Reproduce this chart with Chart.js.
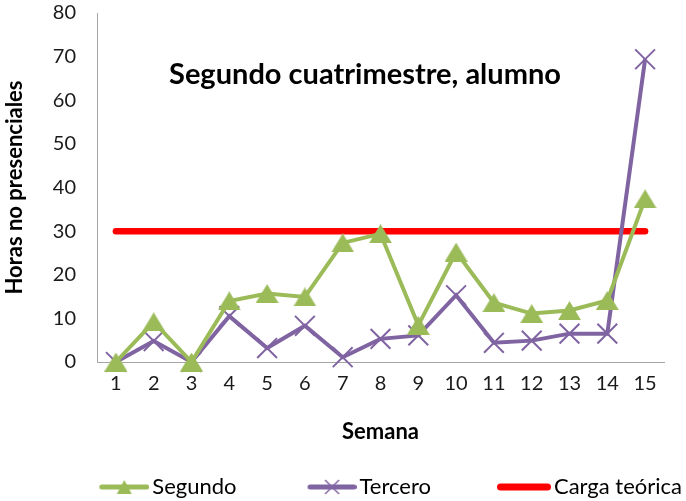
<!DOCTYPE html>
<html>
<head>
<meta charset="utf-8">
<script src="https://cdn.jsdelivr.net/npm/chart.js@4.4.1/dist/chart.umd.min.js"></script>
<style>
    html, body { margin: 0; padding: 0; background: #fff; }
    #wrap { width: 686px; height: 501px; }
</style>
</head>
<body>
<div id="wrap"><canvas id="horasChart"></canvas></div>
<script>
// Datos: horas no presenciales por semana
const semanas = ['1', '2', '3', '4', '5', '6', '7', '8', '9', '10', '11', '12', '13', '14', '15'];
const segundo = [0, 9.2, 0, 14, 15.7, 14.9, 27.3, 29.4, 8.4, 25.2, 13.6, 11.1, 11.8, 14.1, 37.4];
const tercero = [0, 4.8, 0, 10.5, 3.2, 8.3, 1.1, 5.3, 6.1, 15.3, 4.4, 4.9, 6.5, 6.5, 69.4];
const cargaTeorica = [30, 30, 30, 30, 30, 30, 30, 30, 30, 30, 30, 30, 30, 30, 30];

const VERDE = '#9bbb59';
const MORADO = '#8064a2';
const ROJO = '#ff0000';
const FUENTE = 'Lato, "Open Sans", sans-serif';

// triángulo relleno centrado en su caja
function marcaTriangulo(w, h, color) {
    const c = document.createElement('canvas');
    c.width = w;
    c.height = h;
    const ctx = c.getContext('2d');
    ctx.fillStyle = color;
    ctx.beginPath();
    ctx.moveTo(w / 2, 0);
    ctx.lineTo(w, h);
    ctx.lineTo(0, h);
    ctx.closePath();
    ctx.fill();
    return c;
}

// icono de leyenda: línea con marca opcional, desplazado dentro del hueco del item
const BOX = 108;      // ancho de caja de la leyenda
const HUECO = 66;     // espacio antes del icono
function iconoLeyenda(ancho, grosor, color, marca) {
    const izq = HUECO - BOX / 2;
    const der = HUECO + 50 - BOX / 2;
    const mitad = Math.ceil(Math.max(Math.abs(izq), Math.abs(der)));
    const c = document.createElement('canvas');
    c.width = mitad * 2;
    c.height = 18;
    const ctx = c.getContext('2d');
    const x0 = mitad + der - ancho;
    ctx.strokeStyle = color;
    ctx.lineWidth = grosor;
    ctx.lineCap = 'round';
    ctx.beginPath();
    ctx.moveTo(x0 + grosor / 2, 9);
    ctx.lineTo(x0 + ancho - grosor / 2, 9);
    ctx.stroke();
    const cx = x0 + ancho / 2;
    if (marca === 'triangulo') {
        ctx.fillStyle = color;
        ctx.beginPath();
        ctx.moveTo(cx, 2);
        ctx.lineTo(cx + 7.5, 16);
        ctx.lineTo(cx - 7.5, 16);
        ctx.closePath();
        ctx.fill();
    } else if (marca === 'cruz') {
        ctx.lineWidth = 1.5;
        ctx.lineCap = 'butt';
        ctx.beginPath();
        ctx.moveTo(cx - 7, 2);
        ctx.lineTo(cx + 7, 16);
        ctx.moveTo(cx + 7, 2);
        ctx.lineTo(cx - 7, 16);
        ctx.stroke();
    }
    return c;
}

const iconos = [
    iconoLeyenda(50, 5, VERDE, 'triangulo'),
    iconoLeyenda(49, 5, MORADO, 'cruz'),
    iconoLeyenda(54, 7, ROJO, null)
];

// título dibujado dentro del área del gráfico
const tituloInterior = {
    id: 'tituloInterior',
    afterDraw(chart) {
        const {ctx, chartArea} = chart;
        ctx.save();
        ctx.font = 'bold 29px ' + FUENTE;
        ctx.fillStyle = '#000';
        ctx.textAlign = 'center';
        ctx.textBaseline = 'middle';
        ctx.fillText('Segundo cuatrimestre, alumno', chartArea.left + 268, chartArea.top + 62);
        ctx.restore();
    }
};

new Chart(document.getElementById('horasChart'), {
    type: 'line',
    data: {
        labels: semanas,
        datasets: [
            {
                label: 'Segundo',
                data: segundo,
                borderColor: VERDE,
                backgroundColor: VERDE,
                borderWidth: 4,
                pointStyle: marcaTriangulo(23, 19, VERDE),
                pointRadius: 10,
                clip: false
            },
            {
                label: 'Tercero',
                data: tercero,
                borderColor: MORADO,
                backgroundColor: MORADO,
                borderWidth: 4,
                pointStyle: 'crossRot',
                pointRadius: 14,
                pointBorderWidth: 2,
                clip: false
            },
            {
                label: 'Carga teórica',
                data: cargaTeorica,
                borderColor: ROJO,
                backgroundColor: ROJO,
                borderWidth: 6.5,
                borderCapStyle: 'round',
                pointRadius: 0,
                clip: false
            }
        ]
    },
    options: {
        responsive: true,
        maintainAspectRatio: false,
        animation: false,
        layout: {
            autoPadding: false,
            padding: {top: 13, right: 0, bottom: -7, left: 0}
        },
        elements: {
            line: {tension: 0}
        },
        scales: {
            x: {
                offset: true,
                grid: {display: false, drawTicks: false},
                border: {display: true, color: '#a6a6a6', width: 1},
                ticks: {
                    color: '#1a1a1a',
                    font: {family: FUENTE, size: 20},
                    padding: 10,
                    autoSkip: false,
                    maxRotation: 0
                },
                title: {
                    display: true,
                    text: 'Semana',
                    color: '#000',
                    font: {family: FUENTE, size: 22, weight: 'bold'},
                    padding: {top: 10, bottom: 27}
                },
                afterFit(scale) {
                    scale.height = 110;
                    scale.paddingLeft = 0;
                    scale.paddingRight = 0;
                }
            },
            y: {
                min: 0,
                max: 80,
                grid: {display: false, drawTicks: false},
                border: {display: true, color: '#a6a6a6', width: 1},
                ticks: {
                    stepSize: 10,
                    color: '#1a1a1a',
                    font: {family: FUENTE, size: 20},
                    padding: 21
                },
                title: {
                    display: true,
                    text: 'Horas no presenciales',
                    color: '#000',
                    font: {family: FUENTE, size: 22, weight: 'bold'},
                    padding: {top: 1.5, bottom: 5}
                },
                afterFit(scale) {
                    scale.width = 97;
                    scale.paddingTop = 0;
                    scale.paddingBottom = 0;
                }
            },
            // margen derecho del área de trazado
            margen: {
                type: 'linear',
                position: 'right',
                display: true,
                grid: {display: false, drawTicks: false},
                border: {display: false},
                ticks: {display: false},
                afterFit(scale) {
                    scale.width = 22;
                    scale.paddingTop = 0;
                    scale.paddingBottom = 0;
                }
            }
        },
        plugins: {
            tooltip: {enabled: false},
            legend: {
                position: 'bottom',
                align: 'end',
                labels: {
                    usePointStyle: true,
                    pointStyleWidth: BOX,
                    padding: 4,
                    color: '#1a1a1a',
                    font: {family: FUENTE, size: 22},
                    generateLabels(chart) {
                        return chart.data.datasets.map((ds, i) => ({
                            text: ds.label,
                            pointStyle: iconos[i],
                            fillStyle: ds.borderColor,
                            strokeStyle: ds.borderColor,
                            lineWidth: 0,
                            rotation: 0,
                            hidden: false,
                            datasetIndex: i
                        }));
                    }
                }
            }
        }
    },
    plugins: [tituloInterior]
});
</script>
</body>
</html>
